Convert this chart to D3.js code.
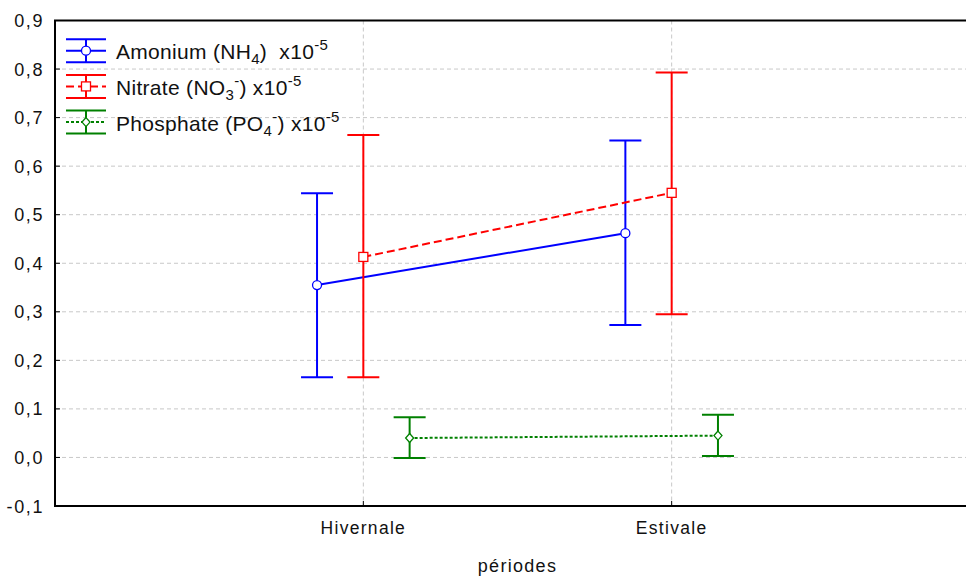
<!DOCTYPE html>
<html>
<head>
<meta charset="utf-8">
<script src="https://cdn.jsdelivr.net/npm/d3@7"></script>
<style>
  body { margin: 0; background: #fff; }
  svg { display: block; font-family: "Liberation Sans", Arial, sans-serif; }
</style>
</head>
<body>
<div id="chart"></div>
<script>
const periods = ["Hivernale", "Estivale"];
const seriesNames = ["Amonium", "Nitrate", "Phosphate"];
const amoniumMean = [0.355, 0.462];
const amoniumLow = [0.165, 0.273];
const amoniumHigh = [0.544, 0.653];
const nitrateMean = [0.413, 0.545];
const nitrateLow = [0.165, 0.295];
const nitrateHigh = [0.664, 0.793];
const phosphateMean = [0.040, 0.045];
const phosphateLow = [-0.001, 0.003];
const phosphateHigh = [0.083, 0.088];
const yTicks = [-0.1, 0.0, 0.1, 0.2, 0.3, 0.4, 0.5, 0.6, 0.7, 0.8, 0.9];

const width = 966, height = 577;
const margin = { left: 55, top: 20.5, right: -14, bottom: 71 };
const blue = "#0000ff", red = "#ff0000", green = "#008000";

const series = [
    { name: "Amonium", color: blue, dash: null, marker: "circle", mean: amoniumMean, low: amoniumLow, high: amoniumHigh },
    { name: "Nitrate", color: red, dash: "8,4", marker: "square", mean: nitrateMean, low: nitrateLow, high: nitrateHigh },
    { name: "Phosphate", color: green, dash: "3,2", marker: "diamond", mean: phosphateMean, low: phosphateLow, high: phosphateHigh }
];

const svg = d3.select("#chart").append("svg")
    .attr("width", width)
    .attr("height", height);

const x = d3.scalePoint()
    .domain(periods)
    .range([margin.left, width - margin.right])
    .padding(1);

const offset = d3.scalePoint()
    .domain(seriesNames)
    .range([-46.3, 46.3]);

const y = d3.scaleLinear()
    .domain([-0.1, 0.9])
    .range([height - margin.bottom, margin.top]);

const fmt = d3.formatLocale({ decimal: ",", thousands: " ", grouping: [3], currency: ["", ""], minus: "-" }).format(".1f");

// grid
svg.append("g").selectAll("line")
    .data(yTicks.filter(d => d > -0.1 && d < 0.9))
    .join("line")
        .attr("x1", margin.left).attr("x2", width - margin.right)
        .attr("y1", d => y(d)).attr("y2", d => y(d))
        .style("stroke", "#c8c8c8")
        .style("stroke-dasharray", "4,3");

svg.append("g").selectAll("line")
    .data(periods)
    .join("line")
        .attr("x1", d => x(d)).attr("x2", d => x(d))
        .attr("y1", margin.top).attr("y2", height - margin.bottom)
        .style("stroke", "#c8c8c8")
        .style("stroke-dasharray", "4,3");

// y axis ticks + labels
svg.append("g").selectAll("line")
    .data(yTicks)
    .join("line")
        .attr("x1", margin.left).attr("x2", margin.left + 5)
        .attr("y1", d => y(d)).attr("y2", d => y(d))
        .style("stroke", "#000");

svg.append("g").selectAll("text")
    .data(yTicks)
    .join("text")
        .attr("x", 44)
        .attr("y", d => y(d) + 6.5)
        .attr("text-anchor", "end")
        .style("font-size", "18px")
        .style("letter-spacing", "1.6px")
        .style("fill", "#111")
        .text(d => fmt(d));

// x ticks + labels
svg.append("g").selectAll("line")
    .data(periods)
    .join("line")
        .attr("x1", d => x(d)).attr("x2", d => x(d))
        .attr("y1", height - margin.bottom).attr("y2", height - margin.bottom - 5)
        .style("stroke", "#000");

svg.append("g").selectAll("text")
    .data(periods)
    .join("text")
        .attr("x", d => x(d))
        .attr("y", 534)
        .attr("text-anchor", "middle")
        .style("font-size", "17.5px")
        .style("letter-spacing", "1.3px")
        .style("fill", "#111")
        .text(d => d);

svg.append("text")
    .attr("x", (margin.left + width - margin.right) / 2)
    .attr("y", 572)
    .attr("text-anchor", "middle")
    .style("font-size", "18px")
    .style("letter-spacing", "1.3px")
    .style("fill", "#111")
    .text("périodes");

// frame
svg.append("rect")
    .attr("x", margin.left)
    .attr("y", margin.top)
    .attr("width", width - margin.right - margin.left)
    .attr("height", height - margin.bottom - margin.top)
    .style("fill", "none")
    .style("stroke", "#000")
    .style("stroke-width", 2);

const capHalf = 16;

function drawMarker(g, type, color, cx, cy) {
    if (type === "circle") {
        g.append("circle").attr("cx", cx).attr("cy", cy).attr("r", 4.5)
            .style("fill", "#fff").style("stroke", color).style("stroke-width", 1.3);
    } else if (type === "square") {
        g.append("rect").attr("x", cx - 4.5).attr("y", cy - 4.5).attr("width", 9).attr("height", 9)
            .style("fill", "#fff").style("stroke", color).style("stroke-width", 1.3);
    } else {
        g.append("path").attr("d", `M${cx},${cy - 4.5}L${cx + 4},${cy}L${cx},${cy + 4.5}L${cx - 4},${cy}Z`)
            .style("fill", "#fff").style("stroke", color).style("stroke-width", 1.3);
    }
}

series.forEach(s => {
    const g = svg.append("g");
    const pts = periods.map((p, i) => ({ x: x(p) + offset(s.name), m: s.mean[i], lo: s.low[i], hi: s.high[i] }));

    g.append("path")
        .datum(pts)
        .attr("d", d3.line().x(d => d.x).y(d => y(d.m)))
        .style("fill", "none")
        .style("stroke", s.color)
        .style("stroke-width", 2)
        .style("stroke-dasharray", s.dash);

    pts.forEach(d => {
        g.append("line").attr("x1", d.x).attr("x2", d.x).attr("y1", y(d.lo)).attr("y2", y(d.hi))
            .style("stroke", s.color).style("stroke-width", 2);
        [d.lo, d.hi].forEach(v => {
            g.append("line").attr("x1", d.x - capHalf).attr("x2", d.x + capHalf).attr("y1", y(v)).attr("y2", y(v))
                .style("stroke", s.color).style("stroke-width", 2);
        });
        drawMarker(g, s.marker, s.color, d.x, y(d.m));
    });
});

// legend
const legend = svg.append("g");
const legendRows = [
    [{ t: "Amonium (NH" }, { t: "4", sub: true }, { t: ")  x10" }, { t: "-5", sup: true }],
    [{ t: "Nitrate (NO" }, { t: "3", sub: true }, { t: "-", sup: true, back: true }, { t: ") x10" }, { t: "-5", sup: true }],
    [{ t: "Phosphate (PO" }, { t: "4", sub: true }, { t: "-", sup: true, back: true }, { t: ") x10" }, { t: "-5", sup: true }]
];

series.forEach((s, i) => {
    const cy = 50.7 + i * 35.7;
    const lg = legend.append("g");
    lg.append("line").attr("x1", 66).attr("x2", 106).attr("y1", cy).attr("y2", cy)
        .style("stroke", s.color).style("stroke-width", 2).style("stroke-dasharray", s.dash);
    lg.append("line").attr("x1", 86).attr("x2", 86).attr("y1", cy - 11.5).attr("y2", cy + 11.5)
        .style("stroke", s.color).style("stroke-width", 2);
    [-11.5, 11.5].forEach(dy => {
        lg.append("line").attr("x1", 66).attr("x2", 106).attr("y1", cy + dy).attr("y2", cy + dy)
            .style("stroke", s.color).style("stroke-width", 2);
    });
    drawMarker(lg, s.marker, s.color, 86, cy);

    const text = lg.append("text")
        .attr("x", 116)
        .attr("y", cy + 8.5)
        .style("font-size", "21px")
        .style("letter-spacing", "0.3px")
        .style("white-space", "pre")
        .style("fill", "#111");
    let shift = 0;
    legendRows[i].forEach(part => {
        const target = part.sub ? 5 : part.sup ? -9 : 0;
        const ts = text.append("tspan")
            .attr("dy", target - shift)
            .style("font-size", part.sub || part.sup ? "15px" : "21px")
            .text(part.t);
        if (part.back) ts.attr("dx", 0);
        shift = target;
    });
});
</script>
</body>
</html>
